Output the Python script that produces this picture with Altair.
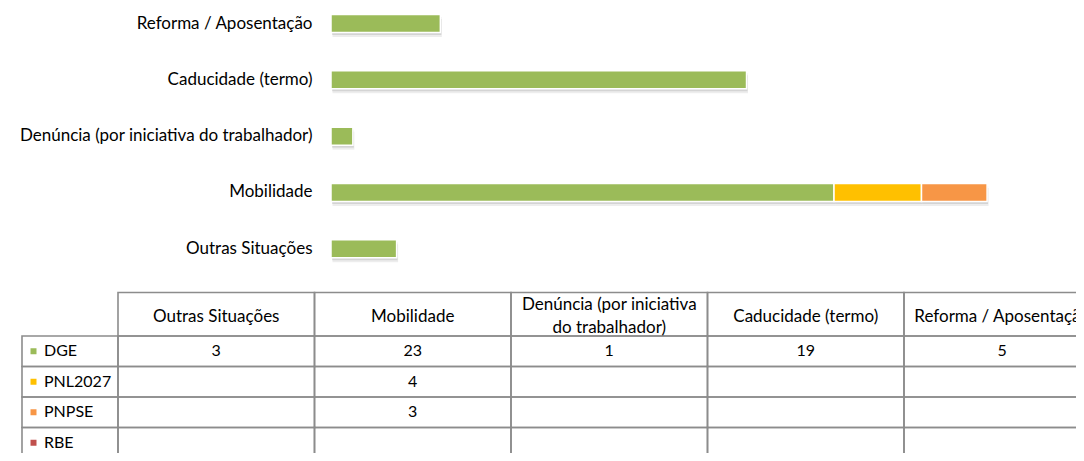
import altair as alt
import pandas as pd

# ---- data ----
categories = ["Outras Situações", "Mobilidade", "Denúncia (por iniciativa do trabalhador)",
              "Caducidade (termo)", "Reforma / Aposentação"]
series = ["DGE", "PNL2027", "PNPSE", "RBE"]
colors = ["#9BBB59", "#FFC000", "#F79646", "#C0504D"]
dge = [3, 23, 1, 19, 5]
pnl2027 = [None, 4, None, None, None]
pnpse = [None, 3, None, None, None]
rbe = [None, None, None, None, None]

values = {"DGE": dge, "PNL2027": pnl2027, "PNPSE": pnpse, "RBE": rbe}
rows = []
for si, s in enumerate(series):
    for ci, c in enumerate(categories):
        rows.append({"series": s, "sidx": si, "category": c, "cidx": ci, "value": values[s][ci]})
long = pd.DataFrame(rows)
bars_df = long.dropna(subset=["value"]).copy()

# ---- layout (view pixels = window pixels - 8) ----
W, H = 1068, 445
FONT = "Lato"
ppu = 21.87           # pixels per unit on bar axis
bar_x0 = 323          # pixel position of 0 on bar axis
bar_first = 15.5      # centre of first bar row
bar_step = 56.33
pin = 1 - 18 / bar_step

bar_order = categories[::-1]


def bx_scale(shift):
    return alt.Scale(domain=[-bar_x0 / ppu, (W - bar_x0) / ppu], range=[shift, W + shift],
                     nice=False, zero=False)


def by_scale(shift):
    return alt.Scale(domain=bar_order,
                     range=[bar_first - bar_step / 2 + shift, bar_first + 4.5 * bar_step + shift],
                     paddingInner=pin, paddingOuter=pin / 2)


color_scale = alt.Scale(domain=series, range=colors)


def shadow_layer(dx, dy, op):
    return alt.Chart(bars_df).mark_bar(color="#000000", opacity=op).encode(
        x=alt.X("sum(value):Q", scale=bx_scale(dx), axis=None, stack="zero"),
        y=alt.Y("category:N", scale=by_scale(dy), axis=None),
        order=alt.Order("sidx:Q"),
    )


shadow1 = shadow_layer(1.5, 4.5, 0.07)
shadow2 = shadow_layer(1.0, 2.5, 0.10)

bars = alt.Chart(bars_df).mark_bar(stroke="white", strokeWidth=1.5).encode(
    x=alt.X("sum(value):Q", scale=bx_scale(0), axis=None, stack="zero"),
    y=alt.Y("category:N", scale=by_scale(0), title=None,
            axis=alt.Axis(orient="left", offset=-314, domain=False, ticks=False, labelPadding=10,
                          labelFont=FONT, labelFontSize=17, labelColor="#000000", labelLimit=500,
                          grid=False)),
    color=alt.Color("series:N", scale=color_scale, legend=None),
    order=alt.Order("sidx:Q"),
)

# ---- table ----
col_w = 196.5
row_h = 30.5
tab_x0 = 110      # left edge of first data column
tab_y0 = 328.0    # top of first data row
lab_left = (14 - tab_x0) / col_w
hdr_top = (284.5 - tab_y0) / row_h
hdr_mid = (308.5 - tab_y0) / row_h
line_h = 22.5

tx_scale = alt.Scale(domain=[-tab_x0 / col_w, (W - tab_x0) / col_w], nice=False, zero=False)
ty_scale = alt.Scale(domain=[-tab_y0 / row_h, (H - tab_y0) / row_h], nice=False, zero=False, reverse=True)

cells = []
for ci in range(len(categories)):
    cells.append({"x": ci, "x2": ci + 1, "y": hdr_top, "y2": 0})
for si in range(len(series)):
    cells.append({"x": lab_left, "x2": 0, "y": si, "y2": si + 1})
    for ci in range(len(categories)):
        cells.append({"x": ci, "x2": ci + 1, "y": si, "y2": si + 1})
cells_df = pd.DataFrame(cells)

grid = alt.Chart(cells_df).mark_rect(fillOpacity=0, stroke="#8C8C8C", strokeWidth=1.6).encode(
    x=alt.X("x:Q", scale=tx_scale, axis=None), x2="x2:Q",
    y=alt.Y("y:Q", scale=ty_scale, axis=None), y2="y2:Q",
)

hdr_rows = []
for ci, c in enumerate(categories):
    lines = c.replace("iniciativa ", "iniciativa\n").split("\n")
    n = len(lines)
    for li, ln in enumerate(lines):
        hdr_rows.append({"label": ln, "cidx": ci,
                         "yc": hdr_mid + (li - (n - 1) / 2) * line_h / row_h})
hdr_df = pd.DataFrame(hdr_rows)

header = alt.Chart(hdr_df).mark_text(font=FONT, fontSize=17, color="#000000",
                                     baseline="middle", align="center").encode(
    x=alt.X("xc:Q", scale=tx_scale, axis=None),
    y=alt.Y("yc:Q", scale=ty_scale, axis=None),
    text="label:N",
).transform_calculate(xc="datum.cidx + 0.5")

vals = alt.Chart(bars_df).mark_text(font=FONT, fontSize=16, color="#000000",
                                    baseline="middle", align="center").encode(
    x=alt.X("xc:Q", scale=tx_scale, axis=None),
    y=alt.Y("yc:Q", scale=ty_scale, axis=None),
    text=alt.Text("value:Q", format="d"),
).transform_calculate(xc="datum.cidx + 0.5", yc="datum.sidx + 0.5")

ser_df = pd.DataFrame({"series": series, "sidx": list(range(len(series)))})
sq_x = (25.5 - tab_x0) / col_w
txt_x = (36 - tab_x0) / col_w
squares = alt.Chart(ser_df).mark_square(size=36, opacity=1).encode(
    x=alt.X("xc:Q", scale=tx_scale, axis=None),
    y=alt.Y("yc:Q", scale=ty_scale, axis=None),
    color=alt.Color("series:N", scale=color_scale, legend=None),
).transform_calculate(xc=str(sq_x), yc="datum.sidx + 0.5")

ser_txt = alt.Chart(ser_df).mark_text(font=FONT, fontSize=16, color="#000000",
                                      baseline="middle", align="left").encode(
    x=alt.X("xc:Q", scale=tx_scale, axis=None),
    y=alt.Y("yc:Q", scale=ty_scale, axis=None),
    text="series:N",
).transform_calculate(xc=str(txt_x), yc="datum.sidx + 0.5")

chart = alt.layer(shadow1, shadow2, bars, grid, header, vals, squares, ser_txt).resolve_scale(
    x="independent", y="independent"
).properties(
    width=W, height=H, padding=0, autosize=alt.AutoSizeParams(type="none"), background="white"
).configure_view(stroke=None)

chart.save("out.html", embed_options={"renderer": "svg", "actions": False})
